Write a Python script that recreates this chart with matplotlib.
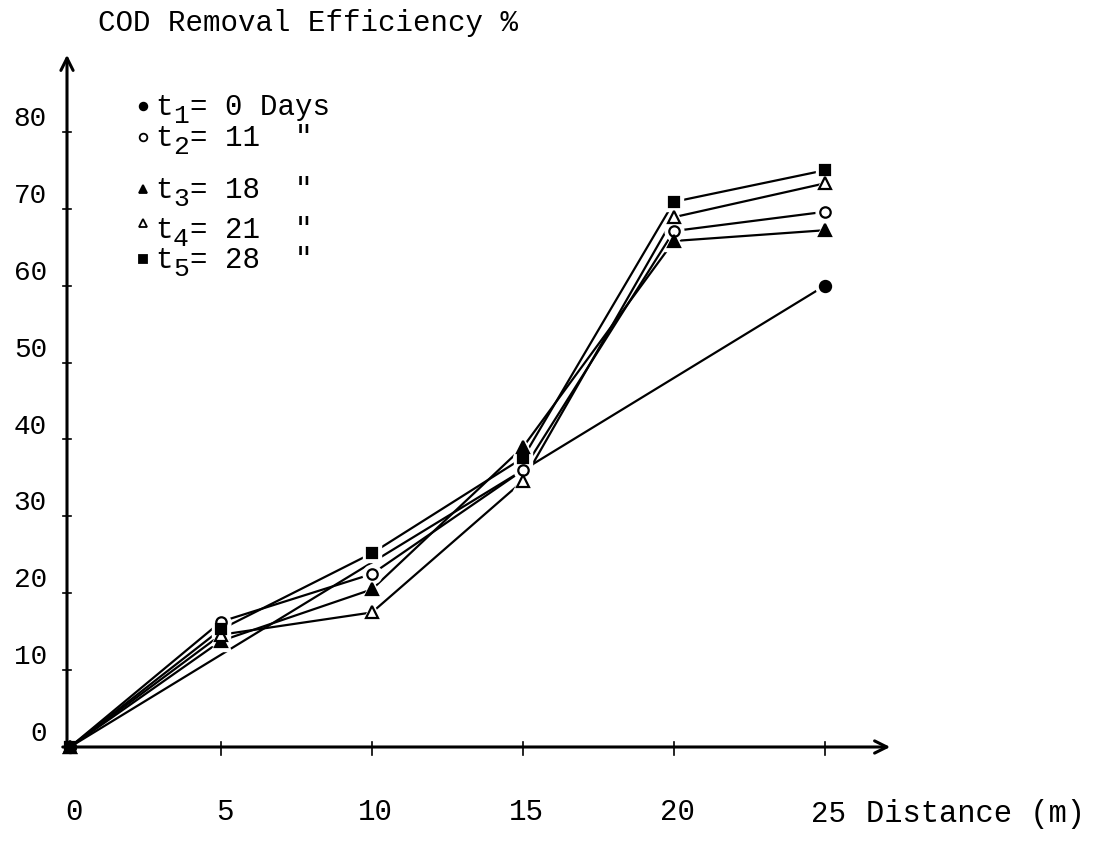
import matplotlib.pyplot as plt

# data
distance = [0, 5, 10, 15, 20, 25]
t1_distance = [0, 25]
t1 = [0, 60]
t2 = [0, 16.3, 22.5, 36.0, 67.1, 69.6]
t3 = [0, 13.8, 20.5, 39.0, 65.8, 67.2]
t4 = [0, 14.6, 17.5, 34.6, 68.9, 73.3]
t5 = [0, 15.3, 25.2, 37.6, 70.9, 75.0]

days = [0, 11, 18, 21, 28]
x_ticks = [0, 5, 10, 15, 20, 25]
y_ticks = [0, 10, 20, 30, 40, 50, 60, 70, 80]

FONT = ['Liberation Mono', 'DejaVu Sans Mono']
plt.rcParams['font.family'] = FONT

W, H = 1096, 845
fig = plt.figure(figsize=(W / 100, H / 100), dpi=100)
ax = fig.add_axes([0, 0, 1, 1])

# pixel anchors of the hand drawn axes
x0_px, x_scale = 70, 30.2   # px per metre
y0_px, y_scale = 748, 7.69  # px per percent
ax.set_xlim(-x0_px / x_scale, (W - x0_px) / x_scale)
ax.set_ylim(-(H - y0_px) / y_scale, y0_px / y_scale)
ax.axis('off')


def px(x):
    return (x - x0_px) / x_scale


def py(y):
    return (y0_px - y) / y_scale


series = [
    (t1_distance, t1, 'o', 'black', 8),
    (distance, t2, 'o', 'white', 7.5),
    (distance, t3, '^', 'black', 8),
    (distance, t4, '^', 'white', 8),
    (distance, t5, 's', 'black', 7.5),
]

for xs, ys, m, fc, ms in series:
    ax.plot(xs, ys, color='black', lw=1.6, zorder=2)
# white halo so lines stop short of the markers, like the hand drawing
for xs, ys, m, fc, ms in series:
    ax.plot(xs[1:], ys[1:], ls='none', marker=m, ms=ms + 6,
            mfc='white', mec='white', zorder=3)
for xs, ys, m, fc, ms in series:
    ax.plot(xs, ys, ls='none', marker=m, ms=ms, mfc=fc, mec='black',
            mew=1.6, zorder=4)

# axes with arrows
ax.annotate('', xy=(px(67), py(53)), xytext=(px(67), 0),
            arrowprops=dict(arrowstyle='->', lw=2.2, color='black',
                            mutation_scale=22), zorder=5)
ax.annotate('', xy=(px(893), 0), xytext=(px(60), 0),
            arrowprops=dict(arrowstyle='->', lw=2.2, color='black',
                            mutation_scale=22), zorder=5)

# small tick marks
for v in y_ticks[1:]:
    ax.plot([px(63), px(71)], [v, v], color='black', lw=1.2)
for v in x_ticks[1:]:
    ax.plot([v, v], [py(743), py(756)], color='black', lw=1.2)

# tick labels
for v in y_ticks:
    ax.text(px(47), v + 1.8, str(v), ha='right', va='center', fontsize=20)
for v in x_ticks[:-1]:
    ax.text(v + 0.12, py(812), str(v), ha='center', va='center',
            fontsize=21)
ax.text(x_ticks[-1] + 0.1, py(814), str(x_ticks[-1]), ha='center',
        va='center', fontsize=21)
ax.text(px(866), py(814), 'Distance (m)', ha='left', va='center',
        fontsize=22)

ax.text(px(98), py(23), 'COD Removal Efficiency %', ha='left',
        va='center', fontsize=21)

# hand written legend
row_y = [107, 138, 190, 230, 260]
for i, (d, (xs, ys, m, fc, ms)) in enumerate(zip(days, series)):
    yy = row_y[i] - (6 if i == 3 else 0)
    ax.plot(px(143), py(yy), marker=m, ms=5.5, mfc=fc, mec='black',
            mew=1.3)
    ax.text(px(155), py(row_y[i]), 't', ha='left', va='center',
            fontsize=21)
    ax.text(px(173), py(row_y[i] + 9), str(i + 1), ha='left',
            va='center', fontsize=19)
    rest = '= 0 Days' if d == 0 else '= %-4d"' % d
    ax.text(px(190), py(row_y[i]), rest, ha='left', va='center',
            fontsize=21)

fig.savefig('out.png', dpi=100)
